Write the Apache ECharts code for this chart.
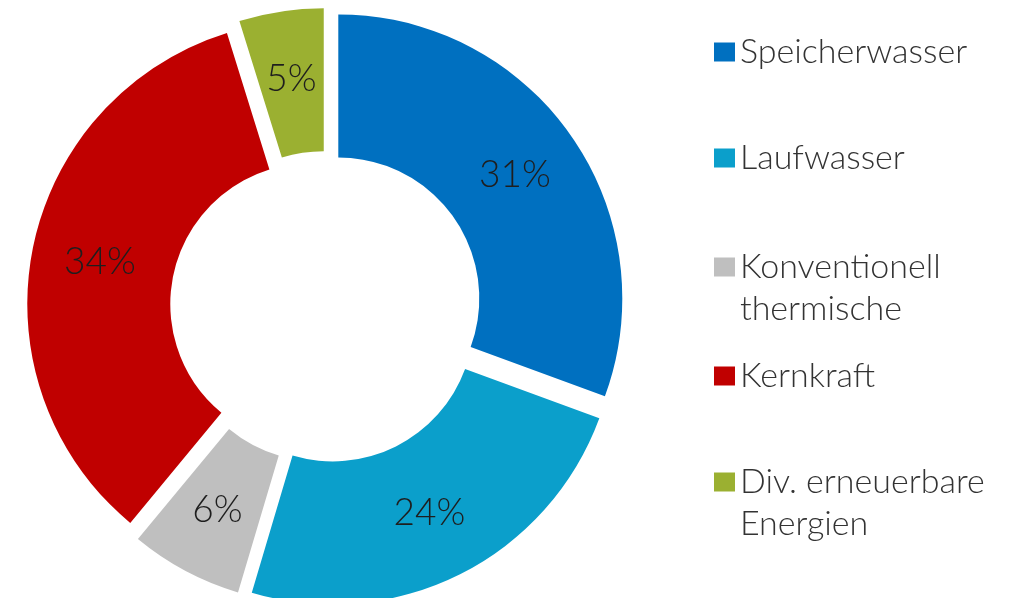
<!DOCTYPE html>
<html>
<head>
<meta charset="utf-8">
<script src="https://cdn.jsdelivr.net/npm/echarts@6/dist/echarts.min.js"></script>
<style>
    html, body { margin: 0; padding: 0; background: #fff; }
    #chart { width: 1014px; height: 598px; }
</style>
</head>
<body>
<div id="chart"></div>
<script>
    // Anteile Stromproduktion (Prozent, aus der Grafik geschaetzt)
    var names  = ['Speicherwasser', 'Laufwasser', 'Konventionell\nthermische', 'Kernkraft', 'Div. erneuerbare\nEnergien'];
    var values = [30.6, 24.0, 6.4, 34.2, 4.8];
    var colors = ['#0070c0', '#0b9fcb', '#bfbfbf', '#c00000', '#9bb031'];

    // vertikale Lage der Legenden-Symbole (Mitte)
    var legendMarkerY = [52, 158, 267, 376, 482];

    var fontFamily = 'Lato, "Open Sans", sans-serif';
    var lineH = 42;

    var pieData = names.map(function (n, i) {
        return { name: n, value: values[i], selected: true, itemStyle: { color: colors[i] } };
    });

    var legends = names.map(function (n, i) {
        var twoLines = n.indexOf('\n') >= 0;
        return {
            orient: 'vertical',
            left: 714,
            top: legendMarkerY[i] - (twoLines ? 63 : 21),
            padding: 0,
            itemWidth: 21,
            itemHeight: 19,
            icon: 'rect',
            selectedMode: false,
            data: [n],
            // leere erste Zeile, damit das Symbol auf Hoehe der ersten Textzeile sitzt
            formatter: function (name) {
                return name.indexOf('\n') >= 0 ? ' \n' + name : name;
            },
            textStyle: {
                fontFamily: fontFamily,
                fontSize: 34,
                fontWeight: 300,
                lineHeight: lineH,
                color: '#333'
            }
        };
    });

    var chart = echarts.init(document.getElementById('chart'), null, { renderer: 'canvas' });
    chart.setOption({
        animation: false,
        backgroundColor: '#fff',
        legend: legends,
        series: [{
            type: 'pie',
            center: [326, 307],
            radius: [141, 284],
            startAngle: 90,
            clockwise: true,
            avoidLabelOverlap: false,
            percentPrecision: 0,
            selectedMode: 'multiple',
            selectedOffset: 15,
            silent: true,
            label: {
                show: true,
                position: 'inside',
                formatter: '{d}%',
                fontFamily: fontFamily,
                fontSize: 37,
                fontWeight: 300,
                color: '#1e1e1e'
            },
            labelLine: { show: false },
            emphasis: { disabled: true },
            data: pieData
        }]
    });
</script>
</body>
</html>
